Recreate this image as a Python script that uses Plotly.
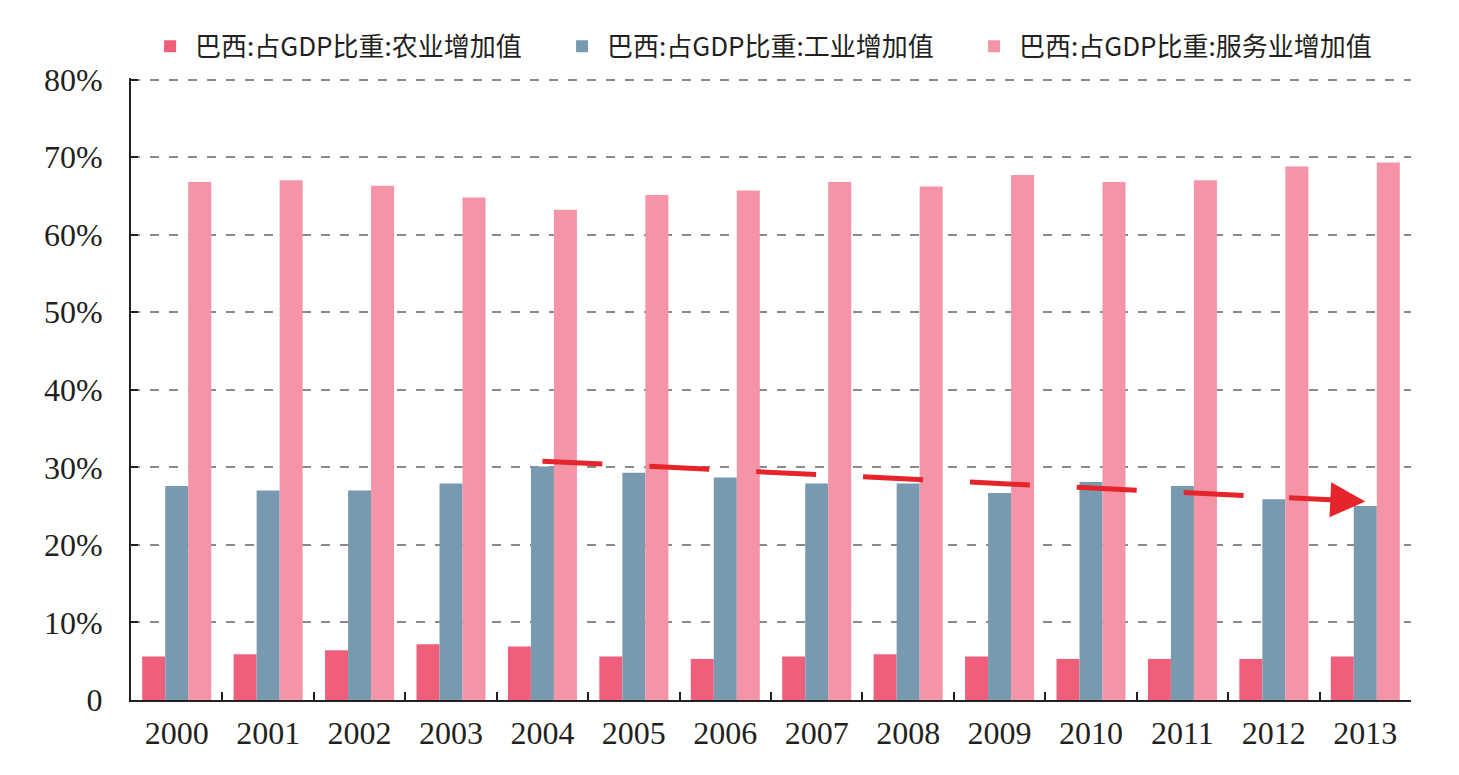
import plotly.graph_objects as go

years = [str(y) for y in range(2000, 2014)]
agriculture = [5.6, 5.9, 6.4, 7.2, 6.9, 5.6, 5.3, 5.6, 5.9, 5.6, 5.3, 5.3, 5.3, 5.6]
industry = [27.6, 27.0, 27.0, 27.9, 30.1, 29.3, 28.7, 27.9, 27.9, 26.7, 28.1, 27.6, 25.9, 25.0]
services = [66.8, 67.0, 66.3, 64.8, 63.2, 65.1, 65.7, 66.8, 66.2, 67.7, 66.8, 67.0, 68.8, 69.3]
names = ["巴西:占GDP比重:农业增加值", "巴西:占GDP比重:工业增加值", "巴西:占GDP比重:服务业增加值"]
colors = ["#EF5F7B", "#779AB1", "#F594A7"]
y_tickvals = [0, 10, 20, 30, 40, 50, 60, 70, 80]
y_ticktext = ["0", "10%", "20%", "30%", "40%", "50%", "60%", "70%", "80%"]
# trend arrow (category index, percent)
trend_start = (4.0, 30.8)
trend_end = (13.0, 25.6)

fig = go.Figure()
for vals, nm, c in zip([agriculture, industry, services], names, colors):
    fig.add_trace(go.Bar(x=years, y=vals, name=nm, marker=dict(color=c, line=dict(width=0))))

serif = "Liberation Serif, Times New Roman, serif"
fig.update_layout(
    width=1459, height=775,
    margin=dict(l=131, r=48, t=78, b=75),
    paper_bgcolor="white", plot_bgcolor="white",
    barmode="group", bargap=0.245, bargroupgap=0,
    font=dict(family=serif, size=32, color="#231F20"),
    legend=dict(orientation="h", x=0.011, y=1.051, xanchor="left", yanchor="middle",
                font=dict(family="Noto Sans CJK SC", size=26, color="#231F20"),
                entrywidth=357, entrywidthmode="pixels",
                itemwidth=40, bgcolor="rgba(0,0,0,0)"),
    showlegend=True,
)
fig.update_xaxes(type="category", showline=True, linecolor="#231F20", linewidth=2,
                 ticks="inside", tickson="boundaries", ticklen=8, tickcolor="#231F20", tickwidth=2,
                 showgrid=False, tickfont=dict(family=serif, size=32), ticklabelstandoff=4)
fig.update_yaxes(range=[0, 80.2], tickvals=y_tickvals, ticktext=y_ticktext,
                 showline=True, linecolor="#231F20", linewidth=2,
                 ticks="inside", ticklen=7, tickcolor="#231F20", tickwidth=2,
                 showgrid=True, gridcolor="#8A8A8A", gridwidth=1.5, griddash="9px,10px",
                 zeroline=False, tickfont=dict(family=serif, size=32), ticklabelstandoff=20)

# dashed trend line
slope = (trend_end[1] - trend_start[1]) / (trend_end[0] - trend_start[0])
tail_x = trend_end[0] - 0.85
tail_y = trend_start[1] + slope * (tail_x - trend_start[0])
fig.add_shape(type="line", xref="x", yref="y", x0=trend_start[0], y0=trend_start[1],
              x1=tail_x, y1=tail_y, line=dict(color="#E5242B", width=5, dash="60px,47px"))
fig.add_annotation(x=trend_end[0], y=trend_end[1], ax=tail_x, ay=tail_y, axref="x", ayref="y",
                   xref="x", yref="y", text="", showarrow=True, arrowhead=2, arrowsize=1.4,
                   arrowwidth=5, arrowcolor="#E5242B")

fig.write_html("out.html")
